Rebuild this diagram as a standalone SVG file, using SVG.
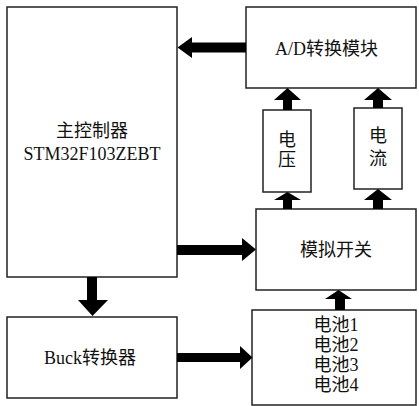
<svg xmlns="http://www.w3.org/2000/svg" width="419" height="406" viewBox="0 0 419 406">
<style>
.box{fill:#fff;stroke:#222;stroke-width:1.5}
.t{font-family:"Liberation Serif","Noto Sans CJK SC",serif;font-size:18px;fill:#111;text-anchor:middle}
.arr{fill:#000}
</style>
<rect width="419" height="406" fill="#fff"/>
<g id="main"><rect class="box" x="7" y="7" width="170" height="270"/>
<text class="t" x="92" y="137">主控制器</text><text class="t" x="92" y="160">STM32F103ZEBT</text></g>
<g id="ad"><rect class="box" x="246" y="7" width="170" height="81"/><text class="t" x="326.5" y="55">A/D转换模块</text></g>
<g id="voltage"><rect class="box" x="263" y="110" width="48" height="82"/><text class="t" x="287" y="146">电</text><text class="t" x="287" y="166">压</text></g>
<g id="current"><rect class="box" x="354" y="108" width="48" height="81"/><text class="t" x="378" y="142">电</text><text class="t" x="378" y="165">流</text></g>
<g id="switch"><rect class="box" x="256" y="209" width="160" height="81"/><text class="t" x="336" y="256">模拟开关</text></g>
<g id="buck"><rect class="box" x="7" y="317" width="170" height="81"/><text class="t" x="90" y="364">Buck转换器</text></g>
<g id="battery"><rect class="box" x="252" y="310" width="164" height="95"/>
<text class="t" x="336" y="331">电池1</text><text class="t" x="336" y="351">电池2</text><text class="t" x="336" y="371">电池3</text><text class="t" x="336" y="391">电池4</text></g>
<g id="connectors">
<polygon class="arr" points="246,42.5 192,42.5 192,37 177.5,47.5 192,58 192,52.5 246,52.5"/>
<polygon class="arr" points="283,110 283,100 274,100 287.5,88 301,100 292,100 292,110"/>
<polygon class="arr" points="373,108 373,100 364,100 378,88 392,100 383,100 383,108"/>
<polygon class="arr" points="283,209 283,200 274,200 287.5,192 301,200 292,200 292,209"/>
<polygon class="arr" points="373,209 373,200 364,200 378,189 392,200 383,200 383,209"/>
<polygon class="arr" points="177,245 242,245 242,238 256,249.5 242,261 242,255 177,255"/>
<polygon class="arr" points="87,277 97,277 97,300 108,300 92.5,316 78,300 87,300"/>
<polygon class="arr" points="177,353 240,353 240,346 252.5,357.5 240,369 240,362 177,362"/>
<polygon class="arr" points="335,310 335,299 325,299 338.5,290 352,299 345,299 345,310"/>
</g>
</svg>
